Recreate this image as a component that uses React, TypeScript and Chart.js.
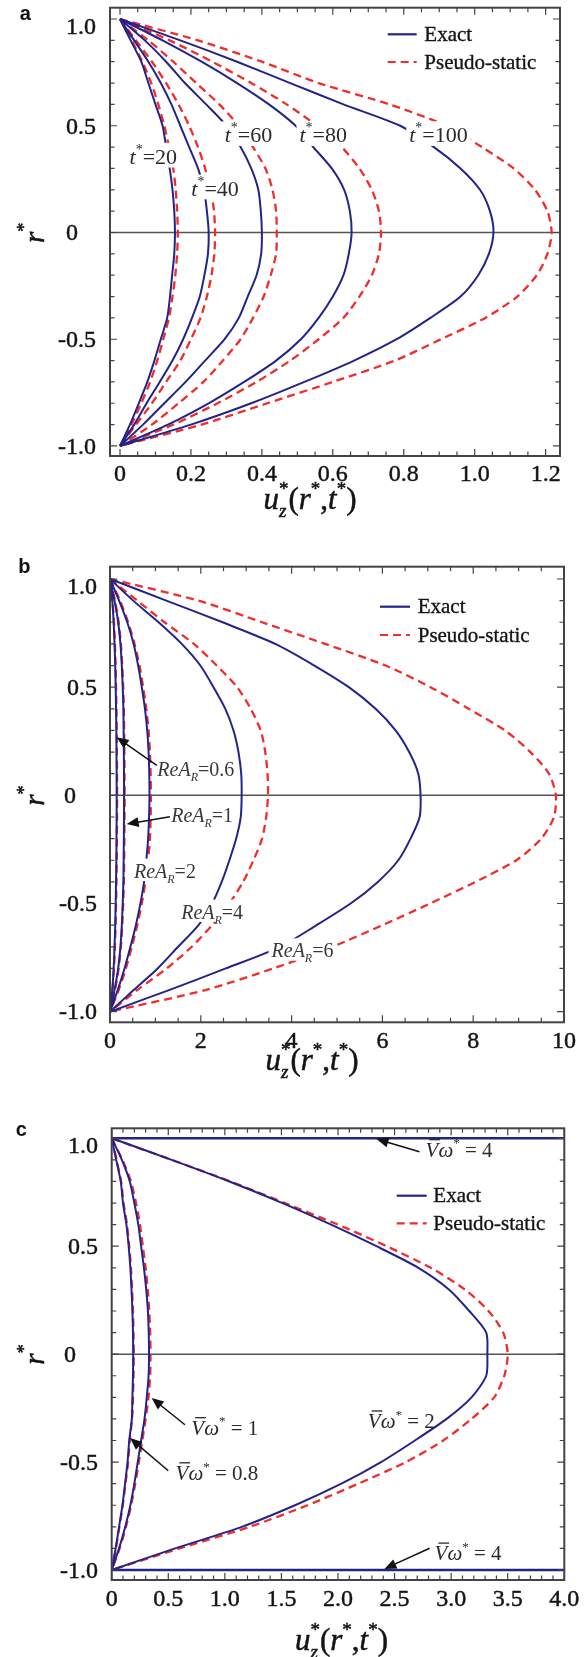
import React, { useEffect, useRef } from "react";
import { Chart, registerables } from "chart.js";

Chart.register(...registerables);

// ---------------- shared radial coordinate r* ----------------
const R_STAR = [1.0, 0.9, 0.8, 0.7, 0.6, 0.5, 0.4, 0.3, 0.2, 0.1, 0, -0.1, -0.2, -0.3, -0.4, -0.5, -0.6, -0.7, -0.8, -0.9, -1.0];
const Y_TICKS = [-1.0, -0.5, 0, 0.5, 1.0];

// ---------------- panel a : t* ----------------
const A_X_TICKS = [0, 0.2, 0.4, 0.6, 0.8, 1.0, 1.2];
const A_EXACT_T20 = [0, 0.03, 0.06, 0.08, 0.1, 0.12, 0.13, 0.14, 0.148, 0.153, 0.155, 0.153, 0.147, 0.141, 0.133, 0.115, 0.097, 0.077, 0.053, 0.028, 0];
const A_PSEUDO_T20 = [0, 0.033, 0.063, 0.088, 0.108, 0.125, 0.138, 0.15, 0.157, 0.161, 0.163, 0.161, 0.156, 0.148, 0.138, 0.122, 0.105, 0.085, 0.06, 0.032, 0];
const A_EXACT_T40 = [0, 0.04, 0.08, 0.115, 0.145, 0.17, 0.195, 0.22, 0.237, 0.245, 0.25, 0.248, 0.238, 0.225, 0.203, 0.178, 0.148, 0.112, 0.075, 0.04, 0];
const A_PSEUDO_T40 = [0, 0.045, 0.09, 0.13, 0.165, 0.195, 0.22, 0.24, 0.256, 0.265, 0.268, 0.266, 0.258, 0.245, 0.227, 0.2, 0.17, 0.13, 0.09, 0.045, 0];
const A_EXACT_T60 = [0, 0.07, 0.13, 0.183, 0.243, 0.3, 0.34, 0.37, 0.39, 0.397, 0.4, 0.398, 0.385, 0.36, 0.335, 0.295, 0.24, 0.185, 0.125, 0.065, 0];
const A_PSEUDO_T60 = [0, 0.08, 0.15, 0.215, 0.28, 0.335, 0.375, 0.41, 0.43, 0.44, 0.442, 0.44, 0.425, 0.405, 0.375, 0.34, 0.29, 0.235, 0.165, 0.09, 0];
const A_EXACT_T80 = [0, 0.12, 0.23, 0.33, 0.42, 0.495, 0.545, 0.597, 0.632, 0.648, 0.653, 0.645, 0.63, 0.6, 0.56, 0.51, 0.44, 0.35, 0.25, 0.135, 0];
const A_PSEUDO_T80 = [0, 0.14, 0.26, 0.37, 0.47, 0.555, 0.625, 0.675, 0.71, 0.73, 0.736, 0.73, 0.71, 0.675, 0.63, 0.56, 0.48, 0.385, 0.275, 0.15, 0];
const A_EXACT_T100 = [0, 0.17, 0.33, 0.48, 0.63, 0.79, 0.885, 0.96, 1.015, 1.043, 1.053, 1.04, 1.01, 0.96, 0.875, 0.78, 0.66, 0.52, 0.37, 0.2, 0];
const A_PSEUDO_T100 = [0, 0.22, 0.4, 0.56, 0.76, 0.92, 1.02, 1.11, 1.17, 1.205, 1.217, 1.205, 1.175, 1.12, 1.03, 0.905, 0.775, 0.6, 0.415, 0.23, 0];

// ---------------- panel b : ReA_R ----------------
const B_X_TICKS = [0, 2, 4, 6, 8, 10];
const B_EXACT_06 = [0, 0.05, 0.08, 0.1, 0.115, 0.125, 0.133, 0.14, 0.143, 0.146, 0.147, 0.146, 0.143, 0.14, 0.133, 0.125, 0.115, 0.1, 0.08, 0.05, 0];
const B_PSEUDO_06 = [0, 0.055, 0.088, 0.108, 0.124, 0.134, 0.142, 0.148, 0.152, 0.155, 0.156, 0.155, 0.152, 0.148, 0.142, 0.134, 0.124, 0.108, 0.088, 0.055, 0];
const B_EXACT_1 = [0, 0.1, 0.18, 0.23, 0.26, 0.28, 0.295, 0.3, 0.305, 0.308, 0.31, 0.308, 0.305, 0.3, 0.295, 0.28, 0.26, 0.23, 0.18, 0.1, 0];
const B_PSEUDO_1 = [0, 0.11, 0.19, 0.24, 0.27, 0.29, 0.305, 0.312, 0.317, 0.32, 0.322, 0.32, 0.317, 0.312, 0.305, 0.29, 0.27, 0.24, 0.19, 0.11, 0];
const B_EXACT_2 = [0, 0.2, 0.38, 0.52, 0.62, 0.7, 0.77, 0.82, 0.85, 0.865, 0.87, 0.86, 0.84, 0.8, 0.75, 0.67, 0.57, 0.45, 0.32, 0.17, 0];
const B_PSEUDO_2 = [0, 0.22, 0.4, 0.54, 0.65, 0.73, 0.8, 0.85, 0.88, 0.895, 0.9, 0.895, 0.88, 0.84, 0.78, 0.7, 0.6, 0.48, 0.35, 0.19, 0];
const B_EXACT_4 = [0, 0.51, 1.07, 1.58, 1.99, 2.28, 2.54, 2.72, 2.83, 2.89, 2.9, 2.88, 2.78, 2.63, 2.46, 2.25, 1.95, 1.5, 1.05, 0.52, 0];
const B_PSEUDO_4 = [0, 0.6, 1.2, 1.85, 2.35, 2.8, 3.1, 3.32, 3.42, 3.47, 3.48, 3.44, 3.35, 3.16, 2.93, 2.63, 2.25, 1.8, 1.25, 0.6, 0];
const B_EXACT_6 = [0, 1.24, 2.48, 3.64, 4.5, 5.26, 5.85, 6.29, 6.59, 6.79, 6.84, 6.82, 6.62, 6.35, 5.9, 5.3, 4.55, 3.75, 2.55, 1.3, 0];
const B_PSEUDO_6 = [0, 1.95, 3.35, 4.74, 6.07, 7.06, 7.9, 8.7, 9.26, 9.67, 9.82, 9.78, 9.5, 8.95, 8.05, 7.05, 6.0, 4.9, 3.6, 2.1, 0];

// ---------------- panel c : V-bar omega* ----------------
const C_X_TICKS = [0, 0.5, 1.0, 1.5, 2.0, 2.5, 3.0, 3.5, 4.0];
const C_EXACT_08 = [0, 0.04, 0.08, 0.1, 0.13, 0.15, 0.165, 0.175, 0.183, 0.188, 0.19, 0.188, 0.183, 0.178, 0.155, 0.14, 0.118, 0.095, 0.065, 0.035, 0];
const C_PSEUDO_08 = [0, 0.043, 0.083, 0.105, 0.135, 0.155, 0.17, 0.18, 0.188, 0.193, 0.195, 0.193, 0.188, 0.18, 0.16, 0.145, 0.122, 0.098, 0.068, 0.037, 0];
const C_EXACT_1 = [0, 0.09, 0.16, 0.2, 0.235, 0.26, 0.285, 0.305, 0.32, 0.327, 0.33, 0.326, 0.31, 0.29, 0.26, 0.23, 0.2, 0.165, 0.12, 0.065, 0];
const C_PSEUDO_1 = [0, 0.095, 0.17, 0.215, 0.25, 0.275, 0.3, 0.318, 0.332, 0.34, 0.343, 0.34, 0.325, 0.3, 0.27, 0.24, 0.208, 0.172, 0.126, 0.07, 0];
const C_EXACT_2 = [0, 0.53, 1.04, 1.51, 1.94, 2.34, 2.71, 2.98, 3.16, 3.31, 3.32, 3.31, 3.18, 2.96, 2.68, 2.38, 2.03, 1.62, 1.15, 0.56, 0];
const C_PSEUDO_2 = [0, 0.53, 1.05, 1.53, 2.0, 2.43, 2.82, 3.12, 3.33, 3.46, 3.5, 3.47, 3.38, 3.18, 2.93, 2.6, 2.18, 1.73, 1.22, 0.6, 0];
const C_R_WALL = [1.0, 1.0, -1.0, -1.0];
const C_EXACT_4 = [0, 40, 40, 0];
const C_PSEUDO_4 = [0, 40, 40, 0];

// ---------------- styling ----------------
const BLUE = "#23238c";
const RED = "#f22b2b";
const INK = "#141414";
const SERIF = '"Liberation Serif", "Times New Roman", "DejaVu Serif", serif';
const SANS = '"Liberation Sans", Arial, sans-serif';
const W = 587;

type Seg = { t: string; it?: boolean; sub?: boolean; sup?: boolean; bar?: boolean; stack?: boolean };

function segFont(s: Seg, size: number) {
  const sz = s.sub || s.sup ? Math.round(size * 0.62) : size;
  return `${s.it ? "italic " : ""}${sz}px ${SERIF}`;
}

function layoutRich(ctx: CanvasRenderingContext2D, segs: Seg[], size: number) {
  const items: { s: Seg; x: number; w: number }[] = [];
  let cx = 0;
  let stackW = 0;
  for (const s of segs) {
    ctx.font = segFont(s, size);
    const w = ctx.measureText(s.t).width;
    items.push({ s, x: cx, w });
    if (s.stack) stackW = Math.max(stackW, w);
    else {
      cx += Math.max(w, stackW);
      stackW = 0;
    }
  }
  return { items, width: cx };
}

function drawRich(
  ctx: CanvasRenderingContext2D,
  segs: Seg[],
  size: number,
  x: number,
  yBase: number,
  align: "left" | "center",
  color: string,
  heavy = 0
) {
  const { items, width } = layoutRich(ctx, segs, size);
  const x0 = align === "center" ? x - width / 2 : x;
  ctx.textAlign = "left";
  ctx.textBaseline = "alphabetic";
  ctx.fillStyle = color;
  ctx.strokeStyle = color;
  for (const it of items) {
    ctx.font = segFont(it.s, size);
    const dy = it.s.sub ? size * 0.25 : it.s.sup ? -size * 0.45 : 0;
    ctx.fillText(it.s.t, x0 + it.x, yBase + dy);
    if (heavy > 0) {
      ctx.lineWidth = heavy;
      ctx.strokeText(it.s.t, x0 + it.x, yBase + dy);
    }
    if (it.s.bar) {
      ctx.save();
      ctx.lineWidth = 1.3;
      ctx.beginPath();
      ctx.moveTo(x0 + it.x + size * 0.18, yBase - size * 0.82);
      ctx.lineTo(x0 + it.x + it.w + size * 0.08, yBase - size * 0.82);
      ctx.stroke();
      ctx.restore();
    }
  }
  return { x0, width };
}

function drawArrow(ctx: CanvasRenderingContext2D, x1: number, y1: number, x2: number, y2: number) {
  const a = Math.atan2(y2 - y1, x2 - x1);
  const L = 12;
  const Wd = 5;
  const c = Math.cos(a);
  const s = Math.sin(a);
  ctx.save();
  ctx.strokeStyle = "#111";
  ctx.fillStyle = "#111";
  ctx.lineWidth = 1.5;
  ctx.setLineDash([]);
  ctx.beginPath();
  ctx.moveTo(x1, y1);
  ctx.lineTo(x2 - L * 0.8 * c, y2 - L * 0.8 * s);
  ctx.stroke();
  ctx.beginPath();
  ctx.moveTo(x2, y2);
  ctx.lineTo(x2 - L * c + Wd * s, y2 - L * s - Wd * c);
  ctx.lineTo(x2 - L * c - Wd * s, y2 - L * s + Wd * c);
  ctx.closePath();
  ctx.fill();
  ctx.restore();
}

type Label = { segs: Seg[]; x: number; y: number; box: boolean };
type Arrow = { x1: number; y1: number; x2: number; y2: number };
type Curve = { u: number[]; r: number[]; exact: boolean; tension?: number; width?: number };

type Spec = {
  key: string;
  top: number;
  h: number;
  area: { top: number; bottom: number; left: number; right: number };
  xMin: number;
  xMax: number;
  yMin: number;
  yMax: number;
  xTicks: number[];
  xFmt: (v: number) => string;
  xMinor: number;
  xMajor: number;
  xLabOff: number;
  yLabRight: number;
  zeroShift: number;
  curves: Curve[];
  labels: Label[];
  labelSize: number;
  labelColor: string;
  arrows: Arrow[];
  legend: { x: number; len: number; y1: number; y2: number; tx: number };
  title: { x: number; base: number };
  letter: { t: string; x: number; base: number };
};

const tLab = (n: string): Seg[] => [{ t: "t", it: true }, { t: "*", sup: true }, { t: "=" + n }];
const reLab = (n: string): Seg[] => [{ t: "ReA", it: true }, { t: "R", it: true, sub: true }, { t: "=" + n }];
const vLab = (n: string): Seg[] => [{ t: "V", it: true, bar: true }, { t: "ω", it: true }, { t: "*", sup: true }, { t: " = " + n }];

const fmt1 = (v: number) => (Math.abs(v) < 1e-9 ? "0" : v.toFixed(1));

const SPECS: Spec[] = [
  {
    key: "a",
    top: 0,
    h: 545,
    area: { top: 7.7, bottom: 456, left: 110, right: 560 },
    xMin: -0.0282,
    xMax: 1.2405,
    yMin: -1.047,
    yMax: 1.053,
    xTicks: A_X_TICKS,
    xFmt: fmt1,
    xMinor: 0.05,
    xMajor: 0.2,
    xLabOff: 19,
    yLabRight: 96,
    zeroShift: 18,
    curves: [
      { u: A_EXACT_T20, r: R_STAR, exact: true },
      { u: A_EXACT_T40, r: R_STAR, exact: true },
      { u: A_EXACT_T60, r: R_STAR, exact: true },
      { u: A_EXACT_T80, r: R_STAR, exact: true },
      { u: A_EXACT_T100, r: R_STAR, exact: true },
      { u: A_PSEUDO_T20, r: R_STAR, exact: false },
      { u: A_PSEUDO_T40, r: R_STAR, exact: false },
      { u: A_PSEUDO_T60, r: R_STAR, exact: false },
      { u: A_PSEUDO_T80, r: R_STAR, exact: false },
      { u: A_PSEUDO_T100, r: R_STAR, exact: false },
    ],
    labels: [
      { segs: tLab("20"), x: 0.094, y: 0.356, box: true },
      { segs: tLab("40"), x: 0.268, y: 0.207, box: true },
      { segs: tLab("60"), x: 0.362, y: 0.457, box: true },
      { segs: tLab("80"), x: 0.573, y: 0.457, box: true },
      { segs: tLab("100"), x: 0.898, y: 0.457, box: true },
    ],
    labelSize: 22,
    labelColor: "#2a2a2a",
    arrows: [],
    legend: { x: 387.7, len: 29, y1: 34.3, y2: 62, tx: 424.3 },
    title: { x: 310, base: 509 },
    letter: { t: "a", x: 25.4, base: 20 },
  },
  {
    key: "b",
    top: 545,
    h: 555,
    area: { top: 21.7, bottom: 477.3, left: 110, right: 564 },
    xMin: 0,
    xMax: 10,
    yMin: -1.049,
    yMax: 1.0568,
    xTicks: B_X_TICKS,
    xFmt: (v: number) => String(Math.round(v)),
    xMinor: 0.5,
    xMajor: 2,
    xLabOff: 19.4,
    yLabRight: 97,
    zeroShift: 21,
    curves: [
      { u: B_EXACT_06, r: R_STAR, exact: true },
      { u: B_EXACT_1, r: R_STAR, exact: true },
      { u: B_EXACT_2, r: R_STAR, exact: true },
      { u: B_EXACT_4, r: R_STAR, exact: true },
      { u: B_EXACT_6, r: R_STAR, exact: true },
      { u: B_PSEUDO_06, r: R_STAR, exact: false },
      { u: B_PSEUDO_1, r: R_STAR, exact: false },
      { u: B_PSEUDO_2, r: R_STAR, exact: false },
      { u: B_PSEUDO_4, r: R_STAR, exact: false },
      { u: B_PSEUDO_6, r: R_STAR, exact: false },
    ],
    labels: [
      { segs: reLab("0.6"), x: 1.89, y: 0.118, box: true },
      { segs: reLab("1"), x: 2.03, y: -0.094, box: true },
      { segs: reLab("2"), x: 1.21, y: -0.35, box: true },
      { segs: reLab("4"), x: 2.25, y: -0.539, box: true },
      { segs: reLab("6"), x: 4.24, y: -0.718, box: true },
    ],
    labelSize: 20,
    labelColor: "#3a3a3a",
    arrows: [
      { x1: 1.03, y1: 0.139, x2: 0.147, y2: 0.268 },
      { x1: 1.32, y1: -0.099, x2: 0.367, y2: -0.133 },
    ],
    legend: { x: 380, len: 30, y1: 61.7, y2: 90, tx: 417.7 },
    title: { x: 312, base: 525 },
    letter: { t: "b", x: 24.4, base: 28 },
  },
  {
    key: "c",
    top: 1100,
    h: 557,
    area: { top: 28.3, bottom: 480, left: 111.7, right: 564.3 },
    xMin: 0,
    xMax: 4,
    yMin: -1.0463,
    yMax: 1.0463,
    xTicks: C_X_TICKS,
    xFmt: fmt1,
    xMinor: 0.1,
    xMajor: 0.5,
    xLabOff: 20,
    yLabRight: 98,
    zeroShift: 22,
    curves: [
      { u: C_EXACT_08, r: R_STAR, exact: true },
      { u: C_EXACT_1, r: R_STAR, exact: true },
      { u: C_EXACT_2, r: R_STAR, exact: true },
      { u: C_EXACT_4, r: C_R_WALL, exact: true, tension: 0, width: 2.6 },
      { u: C_PSEUDO_08, r: R_STAR, exact: false },
      { u: C_PSEUDO_1, r: R_STAR, exact: false },
      { u: C_PSEUDO_2, r: R_STAR, exact: false },
      { u: C_PSEUDO_4, r: C_R_WALL, exact: false, tension: 0, width: 1.6 },
    ],
    labels: [
      { segs: vLab("4"), x: 3.07, y: 0.946, box: false },
      { segs: vLab("4"), x: 3.15, y: -0.923, box: false },
      { segs: vLab("1"), x: 1.0, y: -0.342, box: false },
      { segs: vLab("0.8"), x: 0.93, y: -0.551, box: false },
      { segs: vLab("2"), x: 2.56, y: -0.311, box: false },
    ],
    labelSize: 21,
    labelColor: "#2a2a2a",
    arrows: [
      { x1: 2.72, y1: 0.938, x2: 2.34, y2: 0.997 },
      { x1: 2.81, y1: -0.899, x2: 2.41, y2: -0.995 },
      { x1: 0.647, y1: -0.327, x2: 0.353, y2: -0.203 },
      { x1: 0.5, y1: -0.54, x2: 0.162, y2: -0.389 },
    ],
    legend: { x: 396.7, len: 30, y1: 95.7, y2: 123.3, tx: 433.3 },
    title: { x: 341.5, base: 550 },
    letter: { t: "c", x: 21.3, base: 35.9 },
  },
];

function makeDecor(spec: Spec) {
  return {
    id: "decor_" + spec.key,
    beforeDatasetsDraw(chart: any) {
      const { ctx, chartArea } = chart;
      const ys = chart.scales.y;
      const y0 = ys.getPixelForValue(0);
      ctx.save();
      ctx.strokeStyle = "#555";
      ctx.lineWidth = 1.5;
      ctx.beginPath();
      ctx.moveTo(chartArea.left, y0);
      ctx.lineTo(chartArea.right, y0);
      ctx.stroke();
      ctx.restore();
    },
    afterDatasetsDraw(chart: any) {
      const { ctx, chartArea } = chart;
      const xs = chart.scales.x;
      const ys = chart.scales.y;
      const { left, right, top, bottom } = chartArea;
      ctx.save();
      ctx.setLineDash([]);

      // curve labels
      for (const lb of spec.labels) {
        const px = xs.getPixelForValue(lb.x);
        const py = ys.getPixelForValue(lb.y);
        const sz = spec.labelSize;
        const { width } = layoutRich(ctx, lb.segs, sz);
        if (lb.box) {
          ctx.fillStyle = "#fff";
          ctx.fillRect(px - width / 2 - 3, py - sz * 0.62, width + 6, sz * 1.12);
        }
        drawRich(ctx, lb.segs, sz, px, py + sz * 0.33, "center", spec.labelColor);
      }
      // arrows
      for (const a of spec.arrows) {
        drawArrow(ctx, xs.getPixelForValue(a.x1), ys.getPixelForValue(a.y1), xs.getPixelForValue(a.x2), ys.getPixelForValue(a.y2));
      }

      // frame
      ctx.strokeStyle = "#444";
      ctx.lineWidth = 2;
      ctx.strokeRect(left, top, right - left, bottom - top);

      // inward ticks
      ctx.lineWidth = 1.2;
      ctx.strokeStyle = "#444";
      ctx.beginPath();
      const eps = 1e-6;
      for (let k = Math.ceil(spec.xMin / spec.xMinor - eps); k * spec.xMinor <= spec.xMax + eps; k++) {
        const v = k * spec.xMinor;
        const major = Math.abs(v / spec.xMajor - Math.round(v / spec.xMajor)) < 1e-6;
        const len = major ? 7 : 4.5;
        const p = xs.getPixelForValue(v);
        ctx.moveTo(p, bottom);
        ctx.lineTo(p, bottom - len);
        ctx.moveTo(p, top);
        ctx.lineTo(p, top + len);
      }
      for (let k = Math.ceil(spec.yMin / 0.1 - eps); k * 0.1 <= spec.yMax + eps; k++) {
        const v = k * 0.1;
        const major = Math.abs(v / 0.5 - Math.round(v / 0.5)) < 1e-6;
        const len = major ? 7 : 4.5;
        const p = ys.getPixelForValue(v);
        ctx.moveTo(left, p);
        ctx.lineTo(left + len, p);
        ctx.moveTo(right, p);
        ctx.lineTo(right - len, p);
      }
      ctx.stroke();

      // tick labels (from the scales)
      ctx.font = `24px ${SERIF}`;
      ctx.fillStyle = INK;
      ctx.strokeStyle = INK;
      ctx.lineWidth = 0.45;
      ctx.textBaseline = "middle";
      ctx.textAlign = "center";
      for (const v of spec.xTicks) {
        const p = xs.getPixelForValue(v);
        const t = spec.xFmt(v);
        ctx.fillText(t, p, bottom + spec.xLabOff);
        ctx.strokeText(t, p, bottom + spec.xLabOff);
      }
      ctx.textAlign = "right";
      for (const v of Y_TICKS) {
        const p = ys.getPixelForValue(v);
        const zero = Math.abs(v) < 1e-9;
        const t = zero ? "0" : v.toFixed(1);
        const xr = spec.yLabRight - (zero ? spec.zeroShift : 0);
        const yy = p + 1.5 + (v > 0.99 ? 7 : 0);
        ctx.fillText(t, xr, yy);
        ctx.strokeText(t, xr, yy);
      }

      // legend
      const lg = spec.legend;
      ctx.lineWidth = 2.2;
      ctx.strokeStyle = BLUE;
      ctx.beginPath();
      ctx.moveTo(lg.x, lg.y1);
      ctx.lineTo(lg.x + lg.len, lg.y1);
      ctx.stroke();
      ctx.strokeStyle = RED;
      ctx.setLineDash([8, 5]);
      ctx.beginPath();
      ctx.moveTo(lg.x, lg.y2);
      ctx.lineTo(lg.x + lg.len, lg.y2);
      ctx.stroke();
      ctx.setLineDash([]);
      ctx.fillStyle = INK;
      ctx.strokeStyle = INK;
      ctx.lineWidth = 0.35;
      ctx.font = `21px ${SERIF}`;
      ctx.textAlign = "left";
      ctx.textBaseline = "middle";
      ctx.fillText("Exact", lg.tx, lg.y1 + 1);
      ctx.strokeText("Exact", lg.tx, lg.y1 + 1);
      ctx.fillText("Pseudo-static", lg.tx, lg.y2 + 1);
      ctx.strokeText("Pseudo-static", lg.tx, lg.y2 + 1);

      // x-axis title
      drawRich(
        ctx,
        [
          { t: "u", it: true },
          { t: "z", it: true, sub: true, stack: true },
          { t: "*", sup: true },
          { t: "(" },
          { t: "r", it: true },
          { t: "*", sup: true },
          { t: "," },
          { t: "t", it: true },
          { t: "*", sup: true },
          { t: ")" },
        ],
        31,
        spec.title.x,
        spec.title.base,
        "center",
        INK,
        0.5
      );

      // y-axis title (rotated)
      const y0 = ys.getPixelForValue(0);
      ctx.save();
      ctx.translate(43.5, y0 + 10.5);
      ctx.rotate(-Math.PI / 2);
      drawRich(ctx, [{ t: "r", it: true }, { t: "*", sup: true }], 29, 0, 0, "left", INK, 0.5);
      ctx.restore();

      // panel letter
      ctx.fillStyle = "#111";
      ctx.font = `bold 20px ${SANS}`;
      ctx.textAlign = "center";
      ctx.textBaseline = "alphabetic";
      ctx.fillText(spec.letter.t, spec.letter.x, spec.letter.base);

      ctx.restore();
    },
  };
}

function buildConfig(spec: Spec): any {
  const datasets = spec.curves.map((c) => ({
    data: c.u.map((u, i) => ({ x: u, y: c.r[i] })),
    showLine: true,
    borderColor: c.exact ? BLUE : RED,
    borderWidth: c.width ?? (c.exact ? 2 : 2.3),
    borderDash: c.exact ? [] : [8, 5],
    pointRadius: 0,
    pointHoverRadius: 0,
    fill: false,
    tension: c.tension ?? 0.25,
  }));
  const a = spec.area;
  return {
    type: "scatter",
    data: { datasets },
    options: {
      responsive: false,
      animation: false,
      events: [],
      layout: {
        autoPadding: false,
        padding: { top: a.top, right: W - a.right, left: 0, bottom: 0 },
      },
      plugins: { legend: { display: false }, tooltip: { enabled: false }, title: { display: false } },
      scales: {
        x: {
          type: "linear",
          min: spec.xMin,
          max: spec.xMax,
          bounds: "data",
          grid: { display: false, drawTicks: false },
          border: { display: false },
          ticks: { display: false },
          afterBuildTicks: (s: any) => {
            s.ticks = spec.xTicks.map((v) => ({ value: v }));
          },
          afterFit: (s: any) => {
            s.height = spec.h - a.bottom;
          },
        },
        y: {
          type: "linear",
          min: spec.yMin,
          max: spec.yMax,
          bounds: "data",
          grid: { display: false, drawTicks: false },
          border: { display: false },
          ticks: { display: false },
          afterBuildTicks: (s: any) => {
            s.ticks = Y_TICKS.map((v) => ({ value: v }));
          },
          afterFit: (s: any) => {
            s.width = a.left;
          },
        },
      },
    },
    plugins: [makeDecor(spec)],
  };
}

function Panel({ spec }: { spec: Spec }) {
  const ref = useRef<HTMLCanvasElement | null>(null);
  useEffect(() => {
    if (!ref.current) return;
    const chart = new Chart(ref.current, buildConfig(spec));
    return () => chart.destroy();
  }, [spec]);
  return (
    <canvas
      ref={ref}
      width={W}
      height={spec.h}
      style={{ position: "absolute", left: 0, top: spec.top, width: W, height: spec.h, display: "block" }}
    />
  );
}

export default function App() {
  return (
    <div style={{ position: "absolute", left: 0, top: 0, width: W, height: 1657, background: "#fff", overflow: "hidden" }}>
      {SPECS.map((s) => (
        <Panel key={s.key} spec={s} />
      ))}
    </div>
  );
}
